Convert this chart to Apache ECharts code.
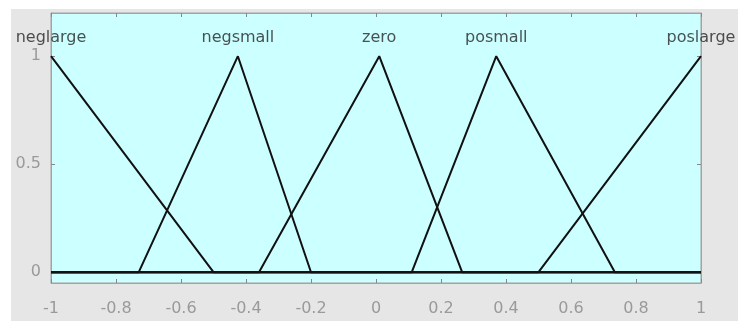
<!DOCTYPE html>
<html>
<head>
<meta charset="utf-8">
<script src="https://cdn.jsdelivr.net/npm/echarts@6/dist/echarts.min.js"></script>
<style>
html,body{margin:0;padding:0;background:#fff;}
#c{width:738px;height:321px;}
</style>
</head>
<body>
<div id="c"></div>
<script>
// Membership function vertices
const neglargeX = [-1, -0.5, 1];
const neglargeY = [1, 0, 0];
const negsmallX = [-1, -0.73, -0.425, -0.2, 1];
const negsmallY = [0, 0, 1, 0, 0];
const zeroX = [-1, -0.36, 0.01, 0.265, 1];
const zeroY = [0, 0, 1, 0, 0];
const posmallX = [-1, 0.11, 0.37, 0.735, 1];
const posmallY = [0, 0, 1, 0, 0];
const poslargeX = [-1, 0.5, 1];
const poslargeY = [0, 0, 1];

const mfNames = ['neglarge', 'negsmall', 'zero', 'posmall', 'poslarge'];
const labelX = [-1, -0.425, 0.01, 0.37, 1];
const labelY = 1.087;

const yTicks = [0, 0.5, 1];
const xMin = -1, xMax = 1, xInterval = 0.2;
const yMin = -0.05, yMax = 1.2;

const mfX = [neglargeX, negsmallX, zeroX, posmallX, poslargeX];
const mfY = [neglargeY, negsmallY, zeroY, posmallY, poslargeY];

const FONT = 'DejaVu Sans';
const tickColor = '#9a9a9a';
const axisColor = '#a3a3a3';

const chart = echarts.init(document.getElementById('c'), null, {renderer: 'canvas'});

const series = mfX.map((xs, i) => ({
  type: 'line',
  name: mfNames[i],
  xAxisIndex: 0, yAxisIndex: 0,
  data: xs.map((x, j) => [x, mfY[i][j]]),
  symbol: 'none',
  lineStyle: {color: '#111', width: 2},
  z: 5,
  animation: false
}));

series.push({
  type: 'scatter',
  xAxisIndex: 0, yAxisIndex: 0,
  data: labelX.map((x, i) => ({value: [x, labelY], name: mfNames[i]})),
  symbolSize: 0,
  clip: false,
  label: {
    show: true, position: 'inside', formatter: p => p.name,
    color: '#262626', fontFamily: FONT, fontSize: 16
  },
  silent: true,
  z: 6,
  animation: false
});

const axisLine = {show: true, onZero: false, lineStyle: {color: axisColor, width: 1}};
const tick = {show: true, inside: true, length: 4, lineStyle: {color: '#888'}};

const option = {
  animation: false,
  backgroundColor: '#ffffff',
  graphic: [{
    type: 'rect', z: -100, silent: true,
    shape: {x: 11, y: 9, width: 727, height: 312},
    style: {fill: '#e6e6e6'}
  }],
  grid: {
    left: 51, right: 37, top: 13, bottom: 38,
    show: true, backgroundColor: '#ccffff', borderColor: axisColor, borderWidth: 1,
    containLabel: false
  },
  xAxis: [{
    type: 'value', min: xMin, max: xMax, interval: xInterval, position: 'bottom',
    axisLine: axisLine,
    axisTick: tick,
    axisLabel: {color: tickColor, fontFamily: FONT, fontSize: 16, margin: 18},
    splitLine: {show: false}
  }, {
    type: 'value', min: xMin, max: xMax, interval: xInterval, position: 'top',
    axisLine: axisLine,
    axisTick: tick,
    axisLabel: {show: false},
    splitLine: {show: false}
  }],
  yAxis: [{
    type: 'value', min: yMin, max: yMax, position: 'left',
    axisLine: axisLine,
    axisTick: Object.assign({}, tick, {customValues: yTicks}),
    axisLabel: {color: tickColor, fontFamily: FONT, fontSize: 16, margin: 10, customValues: yTicks},
    splitLine: {show: false}
  }, {
    type: 'value', min: yMin, max: yMax, position: 'right',
    axisLine: axisLine,
    axisTick: Object.assign({}, tick, {customValues: yTicks}),
    axisLabel: {show: false},
    splitLine: {show: false}
  }],
  series: series
};
chart.setOption(option);
</script>
</body>
</html>
